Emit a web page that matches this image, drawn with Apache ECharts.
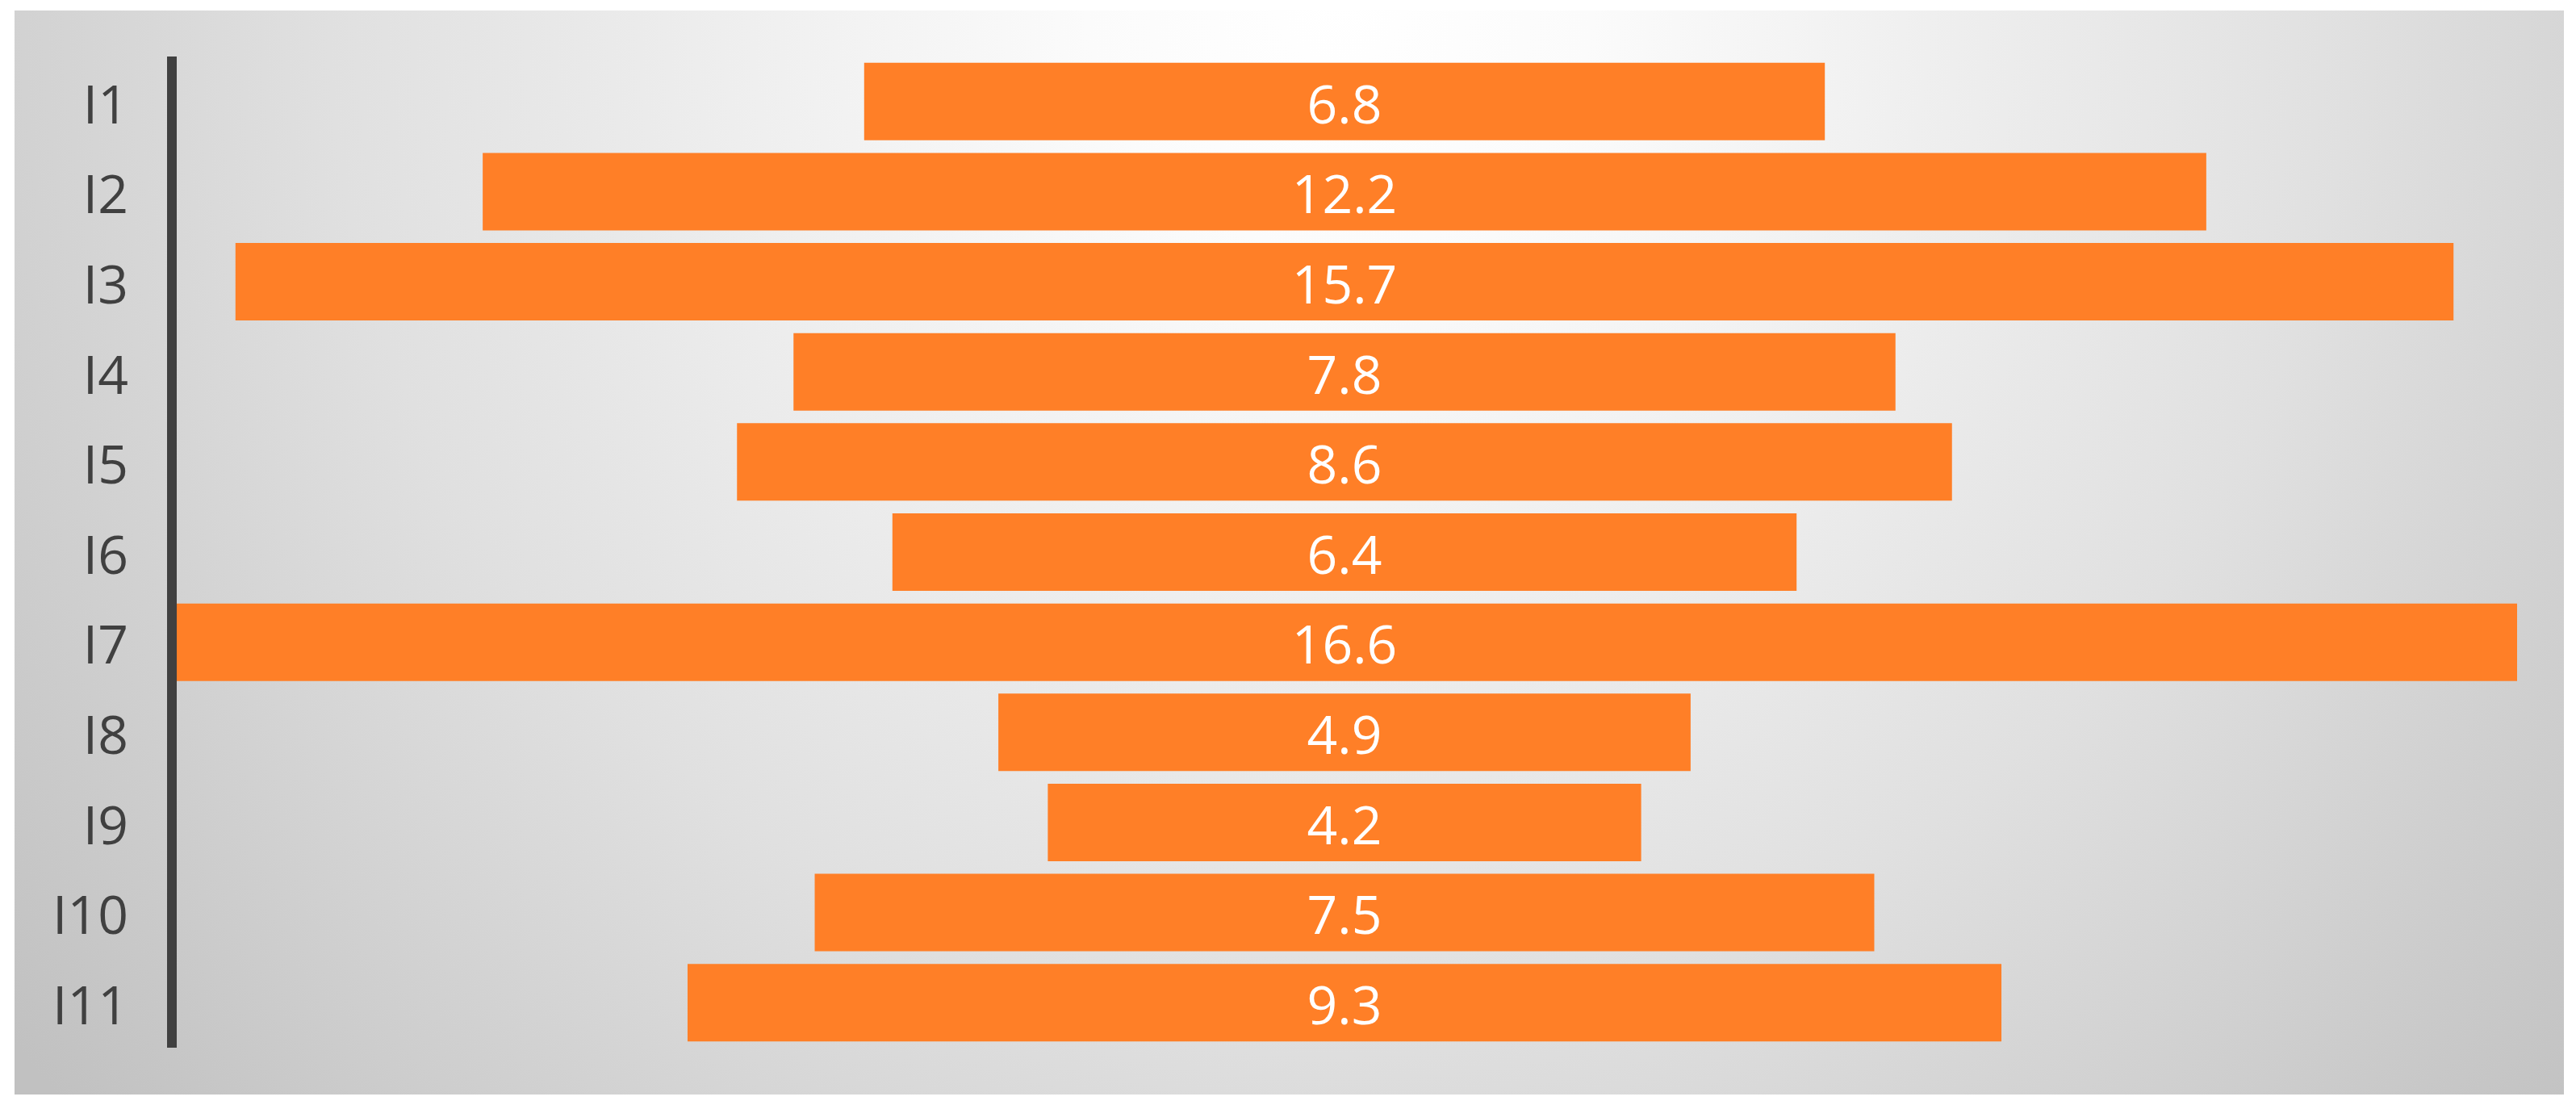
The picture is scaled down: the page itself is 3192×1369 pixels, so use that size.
<!DOCTYPE html>
<html>
<head>
<meta charset="utf-8">
<script src="https://cdn.jsdelivr.net/npm/echarts@6/dist/echarts.min.js"></script>
<style>
  html, body { margin: 0; padding: 0; background: #ffffff; }
  #chart { width: 3192px; height: 1369px; }
</style>
</head>
<body>
<div id="chart"></div>
<script>
const categories = ['I1', 'I2', 'I3', 'I4', 'I5', 'I6', 'I7', 'I8', 'I9', 'I10', 'I11'];
const values = [6.8, 12.2, 15.7, 7.8, 8.6, 6.4, 16.6, 4.9, 4.2, 7.5, 9.3];

const maxVal = Math.max.apply(null, values);
const offsets = values.map(v => (maxVal - v) / 2);

const chart = echarts.init(document.getElementById('chart'), null, { renderer: 'canvas' });
const option = {
  animation: false,
  backgroundColor: '#ffffff',
  graphic: [{
    type: 'rect',
    z: -10,
    silent: true,
    shape: { x: 18, y: 13, width: 3159, height: 1343 },
    style: {
      fill: {
        type: 'radial',
        x: 1660, y: 0, r: 2090,
        global: true,
        colorStops: [
          { offset: 0, color: '#ffffff' },
          { offset: 0.15, color: '#fbfbfb' },
          { offset: 0.6, color: '#e0e0e0' },
          { offset: 1, color: '#c1c1c1' }
        ]
      }
    }
  }],
  grid: { left: 213, right: 73, top: 70, bottom: 71, containLabel: false },
  xAxis: {
    type: 'value', min: 0, max: maxVal, show: false
  },
  yAxis: {
    type: 'category',
    data: categories,
    inverse: true,
    z: 5,
    axisLine: { show: true, lineStyle: { color: '#404040', width: 12, cap: 'butt' } },
    axisTick: { show: false },
    axisLabel: {
      margin: 54,
      color: '#404040',
      fontSize: 66,
      fontFamily: 'Open Sans',
      verticalAlign: 'top',
      lineHeight: 16
    },
    splitLine: { show: false }
  },
  series: [
    {
      type: 'bar',
      stack: 'funnel',
      data: offsets,
      itemStyle: { color: 'rgba(0,0,0,0)' },
      barCategoryGap: '14%',
      silent: true
    },
    {
      type: 'bar',
      stack: 'funnel',
      data: values,
      barCategoryGap: '14%',
      itemStyle: { color: '#ff7f27' },
      label: {
        show: true,
        position: 'inside',
        offset: [0, 8],
        color: '#ffffff',
        fontSize: 66,
        fontFamily: 'Open Sans',
        formatter: p => p.value.toFixed(1)
      }
    }
  ]
};
chart.setOption(option);
</script>
</body>
</html>
